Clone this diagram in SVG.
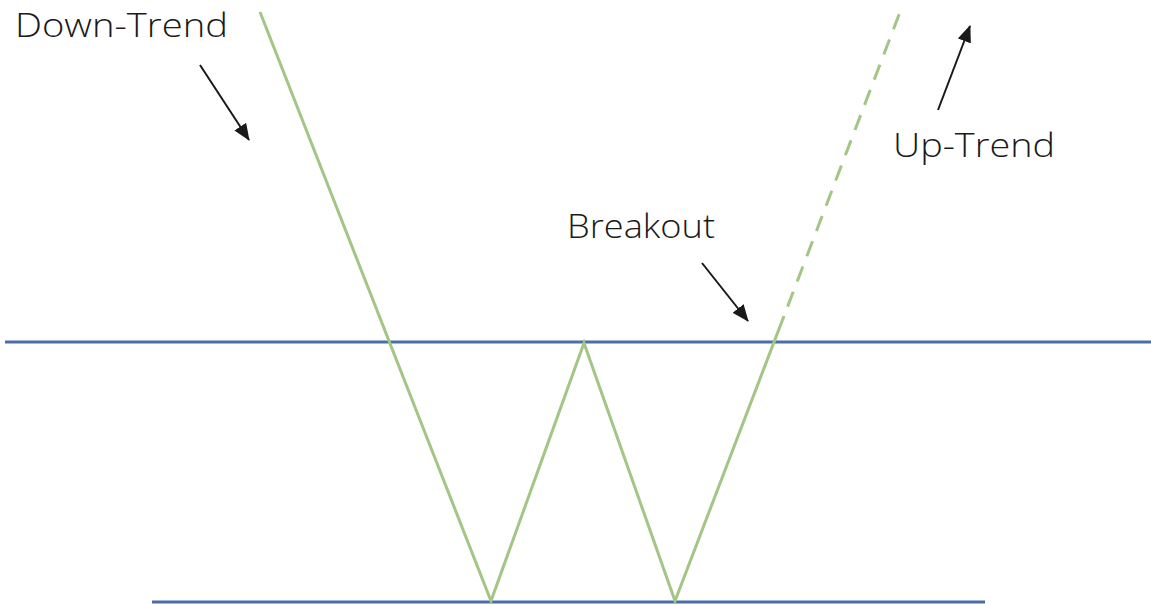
<svg xmlns="http://www.w3.org/2000/svg" width="1151" height="604" viewBox="0 0 1151 604">
<style>
.lbl{font-family:"Open Sans","Liberation Sans",sans-serif;font-weight:300;font-size:33px;fill:#1a1a1a;}
.lvl{stroke:#4a6ea9;stroke-width:3;fill:none;}
.price{stroke:#a3c585;stroke-width:3;fill:none;stroke-linejoin:miter;}
.arr{stroke:#1a1a1a;stroke-width:2;fill:none;marker-end:url(#ah);}
</style>
<defs>
<marker id="ah" markerWidth="18" markerHeight="14" refX="16" refY="7" orient="auto" markerUnits="userSpaceOnUse">
<path d="M0,0 L17,7 L0,14 Z" fill="#1a1a1a"/>
</marker>
</defs>
<rect width="1151" height="604" fill="#ffffff"/>
<g id="levels">
<line id="resistance" class="lvl" x1="5" y1="342" x2="1151" y2="342"/>
<line id="support" class="lvl" x1="152" y1="602" x2="985" y2="602"/>
</g>
<g id="price">
<polyline class="price" points="260,12 491,601 584,343 675,601 784,316"/>
<line class="price" x1="784" y1="316" x2="900" y2="12" stroke-dasharray="16 11" stroke-dashoffset="-10"/>
</g>
<g id="connectors">
<line class="arr" x1="200" y1="65" x2="249" y2="140"/>
<line class="arr" x1="702" y1="263" x2="748" y2="321"/>
<line class="arr" x1="938" y1="110" x2="970" y2="26"/>
</g>
<g id="label-downtrend"><text class="lbl" x="15" y="37" textLength="213" lengthAdjust="spacingAndGlyphs">Down-Trend</text></g>
<g id="label-breakout"><text class="lbl" x="567" y="238" textLength="148" lengthAdjust="spacingAndGlyphs">Breakout</text></g>
<g id="label-uptrend"><text class="lbl" x="893" y="157" textLength="162" lengthAdjust="spacingAndGlyphs">Up-Trend</text></g>
</svg>
